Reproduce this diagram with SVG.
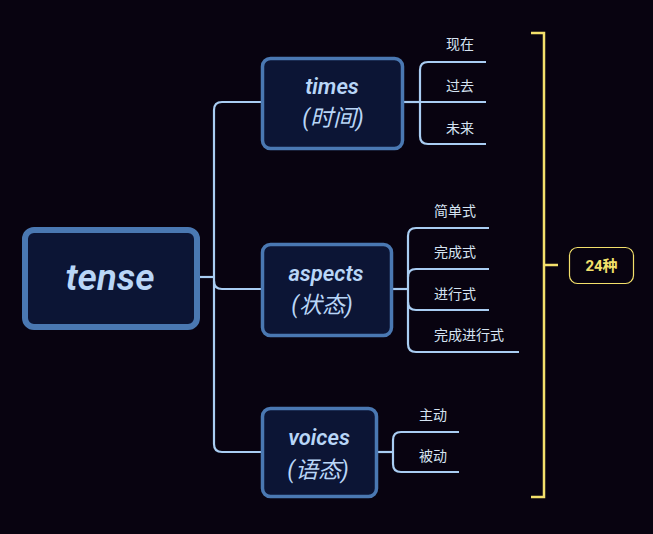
<svg xmlns="http://www.w3.org/2000/svg" width="653" height="534" viewBox="0 0 653 534">
<style>
.node rect{fill:#0c1535;stroke:#4a78b2;stroke-width:3.5}
.nt{font-family:Roboto,"Noto Sans CJK SC",sans-serif;font-style:italic;font-weight:600;fill:#b9d6f7;text-anchor:middle}
.nt.cn{font-weight:400;font-size:23px}
.lbl{font-family:"Noto Sans CJK SC",Roboto,sans-serif;font-size:14px;fill:#d6e4f2}
.con path{fill:none;stroke:#a9cdf2;stroke-width:2.2}
.brk{fill:none;stroke:#f3e06b;stroke-width:2.5}
</style>
<rect width="653" height="534" fill="#080310"/>
<g class="con" id="connectors">
<path d="M200 277H214"/>
<path d="M261 102H222Q214 102 214 110V444Q214 452 222 452H261"/>
<path d="M214 281Q214 289 222 289H261"/>
<path d="M404 102H420"/>
<path d="M486 62H428Q420 62 420 70V136Q420 144 428 144H486"/>
<path d="M420 102H486"/>
<path d="M393 289H408"/>
<path d="M489 228H416Q408 228 408 236V344Q408 352 416 352H519"/>
<path d="M408 277Q408 269 416 269H489"/>
<path d="M408 302Q408 310 416 310H489"/>
<path d="M378 452H393"/>
<path d="M459 432H401Q393 432 393 440V464Q393 472 401 472H459"/>
</g>
<g id="tense" class="node"><rect x="25" y="230" width="172" height="97" rx="9" style="stroke-width:6"/><text class="nt" x="110" y="290" font-size="37">tense</text></g>
<g id="times" class="node"><rect x="262.5" y="58.5" width="140" height="90" rx="8"/><text class="nt" x="332" y="94" font-size="22">times</text><text class="nt cn" x="333" y="126">(时间)</text></g>
<g id="aspects" class="node"><rect x="262.5" y="244.5" width="129" height="91" rx="8"/><text class="nt" x="326" y="281" font-size="22">aspects</text><text class="nt cn" x="322" y="313">(状态)</text></g>
<g id="voices" class="node"><rect x="262.5" y="408.5" width="114" height="88" rx="8"/><text class="nt" x="319" y="445" font-size="22">voices</text><text class="nt cn" x="318" y="478">(语态)</text></g>
<g id="times-children">
<text class="lbl" x="446" y="49">现在</text>
<text class="lbl" x="446" y="91">过去</text>
<text class="lbl" x="446" y="133">未来</text>
</g>
<g id="aspects-children">
<text class="lbl" x="434" y="216">简单式</text>
<text class="lbl" x="434" y="257">完成式</text>
<text class="lbl" x="434" y="299">进行式</text>
<text class="lbl" x="434" y="340">完成进行式</text>
</g>
<g id="voices-children">
<text class="lbl" x="419" y="420">主动</text>
<text class="lbl" x="419" y="461">被动</text>
</g>
<g id="summary">
<path class="brk" d="M531 33H544V497H531M544 265H558"/>
<rect x="569.5" y="247.5" width="64" height="36" rx="8" fill="none" stroke="#f3e06b" stroke-width="1.2"/>
<text x="601.5" y="271" font-family="Roboto,'Noto Sans CJK SC',sans-serif" font-size="15" font-weight="700" fill="#f3e06b" text-anchor="middle">24种</text>
</g>
</svg>
